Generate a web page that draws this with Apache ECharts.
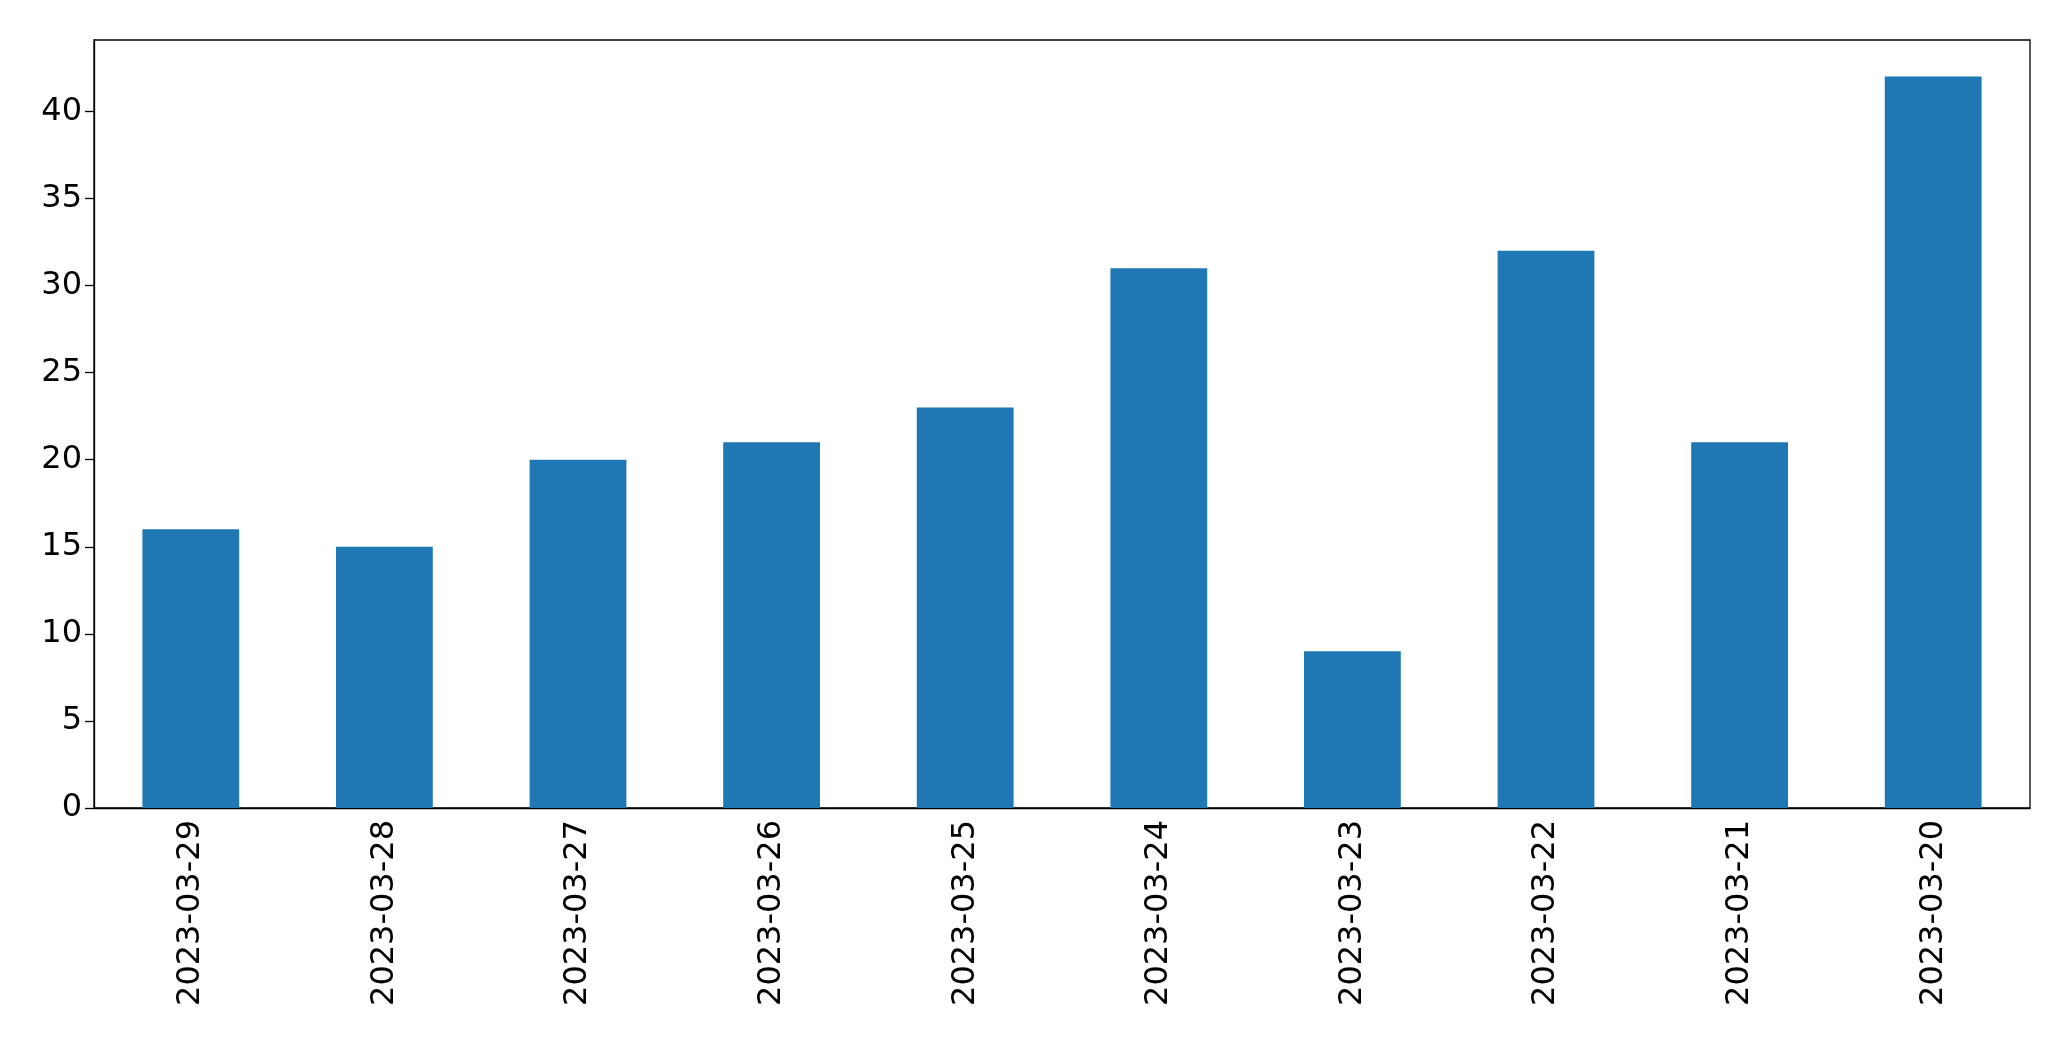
<!DOCTYPE html>
<html><head><meta charset="utf-8">
<script src="https://cdn.jsdelivr.net/npm/echarts@6/dist/echarts.min.js"></script>
<style>html,body{margin:0;padding:0;background:#fff}#c{width:2071px;height:1061px}</style>
</head><body><div id="c"></div>
<script>
const categories = ["2023-03-29","2023-03-28","2023-03-27","2023-03-26","2023-03-25","2023-03-24","2023-03-23","2023-03-22","2023-03-21","2023-03-20"];
const values = [16,15,20,21,23,31,9,32,21,42];
const chart = echarts.init(document.getElementById('c'));
chart.setOption({
  animation:false,
  grid:{left:94,right:41,top:40,bottom:253,show:true,borderColor:'#000',borderWidth:1.3,backgroundColor:'transparent'},
  xAxis:{type:'category',data:categories,
    axisLine:{lineStyle:{color:'#000',width:1.3}},
    axisTick:{alignWithLabel:true,length:9,lineStyle:{color:'#000',width:1.3}},
    axisLabel:{rotate:90,color:'#000',fontSize:32,fontFamily:'DejaVu Sans',margin:12,interval:0}},
  yAxis:{type:'value',min:0,max:44.1,interval:5,
    splitLine:{show:false},
    axisLine:{show:true,lineStyle:{color:'#000',width:1.3}},
    axisTick:{show:true,length:9,lineStyle:{color:'#000',width:1.3}},
    axisLabel:{color:'#000',fontSize:32,fontFamily:'DejaVu Sans',margin:12,showMaxLabel:false}},
  series:[{type:'bar',data:values,barWidth:'50%',itemStyle:{color:'#1f77b4'}}]
});
</script></body></html>
